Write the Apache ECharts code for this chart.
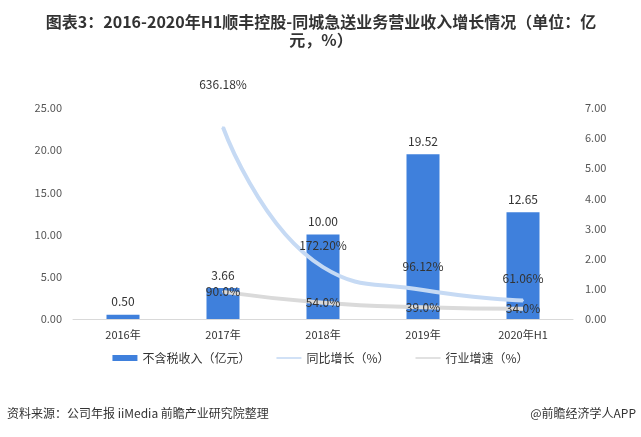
<!DOCTYPE html>
<html><head><meta charset="utf-8">
<script src="https://cdn.jsdelivr.net/npm/echarts@6/dist/echarts.min.js"></script>
<style>html,body{margin:0;padding:0;background:#fff}#c{width:641px;height:437px}</style>
</head><body><div id="c"></div>
<script>
var categories = ['2016年','2017年','2018年','2019年','2020年H1'];
var revenue = [0.50, 3.66, 10.00, 19.52, 12.65];
var yoyGrowth = [null, 6.3618, 1.7220, 0.9612, 0.6106];
var yoyLabels = ['', '636.18%', '172.20%', '96.12%', '61.06%'];
var industryGrowth = [null, 0.90, 0.54, 0.39, 0.34];
var industryLabels = ['', '90.0%', '54.0%', '39.0%', '34.0%'];
var leftTicks = [0, 5, 10, 15, 20, 25];
var rightTicks = [0, 1, 2, 3, 4, 5, 6, 7];

var font = '"Noto Sans CJK SC", "Microsoft YaHei", sans-serif';
var chart = echarts.init(document.getElementById('c'));
var yoyOffsets = [0, 36, 15, 17, 15];
var thinLine = 'path://M0,0L0,0M0,2.2L25,2.2L25,3.8L0,3.8ZM25,6L25,6';
chart.setOption({
  animation: false,
  textStyle: {fontFamily: font},
  legend: {
    bottom: 68, left: 'center',
    itemGap: 26, itemWidth: 25, itemHeight: 6,
    textStyle: {fontSize: 12, color: '#333'},
    data: [
      {name: '不含税收入（亿元）', icon: 'rect'},
      {name: '同比增长（%）', icon: thinLine},
      {name: '行业增速（%）', icon: thinLine}
    ]
  },
  grid: {left: 73, right: 68, top: 108, bottom: 118},
  xAxis: {
    type: 'category', data: categories,
    axisLine: {lineStyle: {color: '#d9d9d9'}},
    axisTick: {show: false},
    axisLabel: {color: '#333', fontSize: 11, margin: 10}
  },
  yAxis: [
    {type: 'value', min: 0, max: 25, interval: 5,
     splitLine: {show: false}, axisLine: {show: false}, axisTick: {show: false},
     axisLabel: {color: '#555', fontSize: 11, margin: 11, formatter: function(v){return v.toFixed(2);}}},
    {type: 'value', min: 0, max: 7, interval: 1,
     splitLine: {show: false}, axisLine: {show: false}, axisTick: {show: false},
     axisLabel: {color: '#555', fontSize: 11, margin: 12, formatter: function(v){return v.toFixed(2);}}}
  ],
  series: [
    {name: '不含税收入（亿元）', type: 'bar', data: revenue, barWidth: 33,
     itemStyle: {color: '#3f80dc'},
     label: {show: true, position: 'top', distance: 7, color: '#333', fontSize: 12,
       formatter: function(p){return p.value.toFixed(2);}}},
    {name: '同比增长（%）', type: 'line', yAxisIndex: 1, smooth: 0.5,
     data: yoyGrowth.map(function(v, i){
       return {value: v, label: {distance: yoyOffsets[i]}};
     }),
     symbol: 'circle', symbolSize: 2, showSymbol: true,
     lineStyle: {color: '#c6daf4', width: 4},
     itemStyle: {color: '#c6daf4'},
     label: {show: true, position: 'top', color: '#333', fontSize: 12,
       formatter: function(p){return yoyLabels[p.dataIndex];}}},
    {name: '行业增速（%）', type: 'line', yAxisIndex: 1, smooth: 0.5,
     data: industryGrowth,
     symbol: 'circle', symbolSize: 2, showSymbol: true,
     lineStyle: {color: '#dadada', width: 4},
     itemStyle: {color: '#dadada'},
     label: {show: true, position: 'inside', color: '#333', fontSize: 12,
       formatter: function(p){return industryLabels[p.dataIndex];}}}
  ],
  graphic: [
    {type: 'text', x: 321, y: 13, style: {text: '图表3：2016-2020年H1顺丰控股-同城急送业务营业收入增长情况（单位：亿\n元，%）', align: 'center', fontSize: 16, fontWeight: 'bold', lineHeight: 18, fill: '#333', fontFamily: font}},
    {type: 'text', left: 7, top: 407, style: {text: '资料来源：公司年报 iiMedia 前瞻产业研究院整理', fontSize: 12, fill: '#333', fontFamily: font}},
    {type: 'text', right: 5, top: 407, style: {text: '@前瞻经济学人APP', fontSize: 12, fill: '#333', fontFamily: font}}
  ]
});
</script></body></html>
